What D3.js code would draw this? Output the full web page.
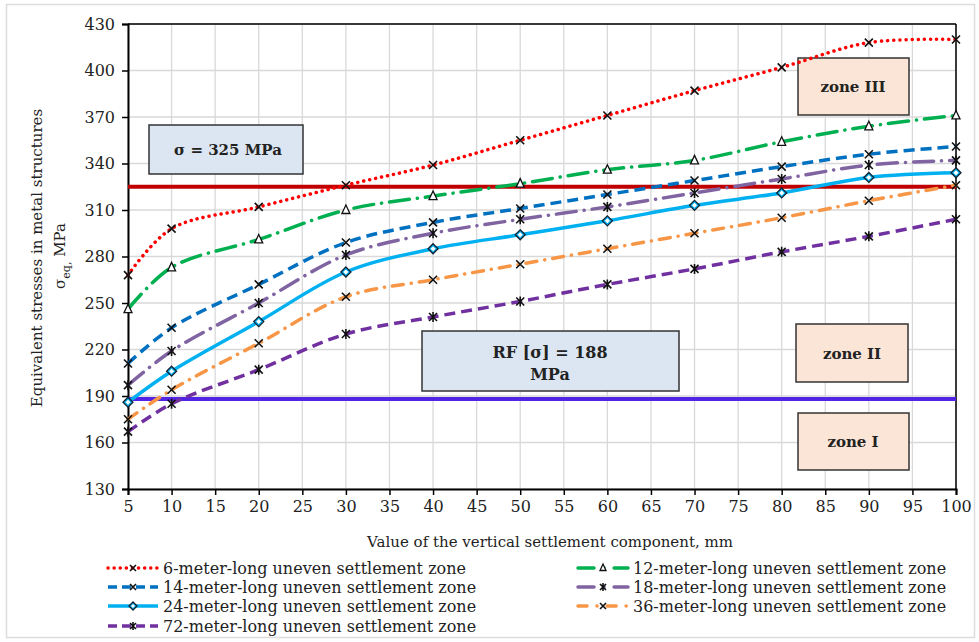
<!DOCTYPE html>
<html>
<head>
<meta charset="utf-8">
<script src="https://cdn.jsdelivr.net/npm/d3@7/dist/d3.min.js"></script>
<style>
body { margin: 0; background: #fff; }
</style>
</head>
<body>
<div id="chart"></div>
<script>
var xs = [5, 10, 20, 30, 40, 50, 60, 70, 80, 90, 100];
var s6 = [268, 298, 312, 326, 339, 355, 371, 387, 402, 418, 420];
var s12 = [246, 273, 291, 310, 319, 327, 336, 342, 354, 364, 371];
var s14 = [211, 234, 262, 289, 302, 311, 320, 329, 338, 346, 351];
var s18 = [197, 219, 250, 281, 295, 304, 312, 321, 330, 339, 342];
var s24 = [186, 206, 238, 270, 285, 294, 303, 313, 321, 331, 334];
var s36 = [175, 194, 224, 254, 265, 275, 285, 295, 305, 316, 326];
var s72 = [167, 185, 207, 230, 241, 251, 262, 272, 283, 293, 304];
var seriesNames = ["6-meter-long uneven settlement zone", "12-meter-long uneven settlement zone",
  "14-meter-long uneven settlement zone", "18-meter-long uneven settlement zone",
  "24-meter-long uneven settlement zone", "36-meter-long uneven settlement zone",
  "72-meter-long uneven settlement zone"];
var xTicks = [5, 10, 15, 20, 25, 30, 35, 40, 45, 50, 55, 60, 65, 70, 75, 80, 85, 90, 95, 100];
var yTicks = [130, 160, 190, 220, 250, 280, 310, 340, 370, 400, 430];
var limitHigh = 325, limitLow = 188;

var serif = "'DejaVu Serif', serif";
var width = 979, height = 642;
var svg = d3.select("#chart").append("svg").attr("width", width).attr("height", height)
  .style("font-family", serif);

svg.append("rect").attr("x", 6.5).attr("y", 4.5).attr("width", 968).attr("height", 633)
  .attr("fill", "none").attr("stroke", "#dcdcdc").attr("stroke-width", 1.5);

var x = d3.scaleLinear().domain([5, 100]).range([128, 956]);
var y = d3.scaleLinear().domain([130, 430]).range([489, 24]);

// grid
svg.append("g").selectAll("line").data(xTicks).enter().append("line")
  .attr("x1", function(d) { return x(d); }).attr("x2", function(d) { return x(d); })
  .attr("y1", y(130)).attr("y2", y(430)).attr("stroke", "#d9d9d9").attr("stroke-width", 1.3);
svg.append("g").selectAll("line").data(yTicks).enter().append("line")
  .attr("x1", x(5)).attr("x2", x(100))
  .attr("y1", function(d) { return y(d); }).attr("y2", function(d) { return y(d); })
  .attr("stroke", "#d9d9d9").attr("stroke-width", 1.3);

// frame top/right
svg.append("line").attr("x1", x(5)).attr("x2", x(100)).attr("y1", y(430)).attr("y2", y(430)).attr("stroke", "#000").attr("stroke-width", 1.5);
svg.append("line").attr("x1", x(100)).attr("x2", x(100)).attr("y1", y(430)).attr("y2", y(130)).attr("stroke", "#000").attr("stroke-width", 1.5);

var xAxis = svg.append("g").attr("transform", "translate(0," + y(130) + ")")
  .call(d3.axisBottom(x).tickValues(xTicks).tickSize(6).tickPadding(6).tickFormat(d3.format("d")));
var yAxis = svg.append("g").attr("transform", "translate(" + x(5) + ",0)")
  .call(d3.axisLeft(y).tickValues(yTicks).tickSize(6).tickPadding(7).tickFormat(d3.format("d")));
[xAxis, yAxis].forEach(function(a) {
  a.attr("font-family", serif);
  a.select(".domain").attr("stroke", "#000").attr("stroke-width", 2);
  a.selectAll(".tick line").attr("stroke", "#000").attr("stroke-width", 1.5);
  a.selectAll(".tick text").attr("font-size", 16).attr("fill", "#222").style("font-family", serif);
});

// annotation boxes (under lines)
function box(x0, y0, w, h, fill) {
  svg.append("rect").attr("x", x0).attr("y", y0).attr("width", w).attr("height", h)
    .attr("fill", fill).attr("stroke", "#333").attr("stroke-width", 1.5);
}
box(149, 125, 154, 49, "#dce6f2");
box(422, 331, 257, 60, "#dce6f2");
box(798, 58, 111, 57, "#fbe5d6");
box(796, 324, 112, 58, "#fbe5d6");
box(798, 413, 111, 57, "#fbe5d6");

function label(tx, ty, str, size) {
  svg.append("text").attr("x", tx).attr("y", ty).attr("text-anchor", "middle")
    .style("font-family", serif)
    .attr("font-size", size).attr("font-weight", "bold").attr("fill", "#222").text(str);
}
label(228, 155, "σ = 325 MPa", 15);
label(550, 358, "RF [σ] = 188", 16);
label(550, 380, "MPa", 16);
label(853, 92, "zone III", 15);
label(852, 359, "zone II", 15);
label(853, 447, "zone I", 15);

// limit lines
svg.append("line").attr("x1", x(5)).attr("x2", x(100)).attr("y1", y(limitHigh)).attr("y2", y(limitHigh))
  .attr("stroke", "#c00000").attr("stroke-width", 4);
svg.append("line").attr("x1", x(5)).attr("x2", x(100)).attr("y1", y(limitLow)).attr("y2", y(limitLow))
  .attr("stroke", "#5424e6").attr("stroke-width", 4);

var styles = [
  { data: s6, color: "#ff0000", dash: "0.1 6", cap: "round", w: 3.5, marker: "x" },
  { data: s12, color: "#00b050", dash: "20 8 0.1 8", cap: "round", w: 3.5, marker: "tri" },
  { data: s14, color: "#0070c0", dash: "11 6", cap: "butt", w: 3.5, marker: "x" },
  { data: s18, color: "#8064a2", dash: "20 8 0.1 8", cap: "round", w: 3.5, marker: "star" },
  { data: s24, color: "#00b0f0", dash: null, cap: "butt", w: 3.5, marker: "diamond" },
  { data: s36, color: "#f79646", dash: "11 8 0.1 8", cap: "round", w: 3.5, marker: "x" },
  { data: s72, color: "#7030a0", dash: "11 6", cap: "butt", w: 3.5, marker: "star" }
];

var line = d3.line().curve(d3.curveCatmullRom.alpha(0.5))
  .x(function(d) { return x(d[0]); }).y(function(d) { return y(d[1]); });

function drawMarker(g, type, cx, cy, color, r) {
  if (type === "x" || type === "star") {
    g.append("path").attr("d", "M" + (cx - r) + "," + (cy - r) + "L" + (cx + r) + "," + (cy + r) +
      "M" + (cx - r) + "," + (cy + r) + "L" + (cx + r) + "," + (cy - r) +
      (type === "star" ? "M" + cx + "," + (cy - r - 1) + "L" + cx + "," + (cy + r + 1) : ""))
      .attr("stroke", "#111").attr("stroke-width", 1.6).attr("fill", "none");
  } else if (type === "tri") {
    g.append("path").attr("d", "M" + cx + "," + (cy - r - 1) + "L" + (cx + r) + "," + (cy + r - 0.5) + "L" + (cx - r) + "," + (cy + r - 0.5) + "Z")
      .attr("stroke", "#111").attr("stroke-width", 1.3).attr("fill", "#fff");
  } else if (type === "diamond") {
    var q = r + 1;
    g.append("path").attr("d", "M" + cx + "," + (cy - q) + "L" + (cx + q) + "," + cy + "L" + cx + "," + (cy + q) + "L" + (cx - q) + "," + cy + "Z")
      .attr("stroke", "#123").attr("stroke-width", 1.3).attr("fill", color);
    g.append("path").attr("d", "M" + cx + "," + (cy - q / 2) + "L" + (cx + q / 2) + "," + cy + "L" + cx + "," + (cy + q / 2) + "L" + (cx - q / 2) + "," + cy + "Z")
      .attr("fill", "#fff");
  }
}

var plot = svg.append("g");
styles.forEach(function(s) {
  var pts = xs.map(function(v, i) { return [v, s.data[i]]; });
  plot.append("path").datum(pts).attr("d", line).attr("fill", "none")
    .attr("stroke", s.color).attr("stroke-width", s.w)
    .attr("stroke-dasharray", s.dash).attr("stroke-linecap", s.cap);
});
styles.forEach(function(s) {
  var mg = plot.append("g");
  xs.forEach(function(v, i) { drawMarker(mg, s.marker, x(v), y(s.data[i]), s.color, 4); });
});

// axis titles
svg.append("text").attr("x", 550).attr("y", 547).attr("text-anchor", "middle").style("font-family", serif)
  .attr("font-size", 15).attr("fill", "#222").text("Value of the vertical settlement component, mm");
svg.append("text").attr("transform", "translate(42,258) rotate(-90)").attr("text-anchor", "middle").style("font-family", serif)
  .attr("font-size", 15).attr("fill", "#222").text("Equivalent stresses in metal structures");
var t2 = svg.append("text").attr("transform", "translate(65,256) rotate(-90)").attr("text-anchor", "middle").style("font-family", serif)
  .attr("font-size", 15).attr("fill", "#222");
t2.append("tspan").text("σ");
t2.append("tspan").attr("dy", 5).attr("font-size", 11).text("eq,");
t2.append("tspan").attr("dy", -5).text("  MPa");

// legend
var legendPos = [[108, 568], [578, 568], [108, 587], [578, 587], [108, 606], [578, 606], [108, 626]];
var legendDash = ["0.1 6", "16 10 0.1 10", "9 5", "16 10 0.1 10", null, "9 10 0.1 10", "9 5"];
styles.forEach(function(s, i) {
  var lx = legendPos[i][0], ly = legendPos[i][1];
  var lg = svg.append("g");
  lg.append("line").attr("x1", lx).attr("x2", lx + 50).attr("y1", ly).attr("y2", ly)
    .attr("stroke", s.color).attr("stroke-width", s.w)
    .attr("stroke-dasharray", legendDash[i])
    .attr("stroke-linecap", s.cap);
  drawMarker(lg, s.marker, lx + 25, ly, s.color, 3);
  lg.append("text").attr("x", lx + 55).attr("y", ly + 6).attr("font-size", 16).attr("fill", "#222")
    .style("font-family", serif).text(seriesNames[i]);
});
</script>
</body>
</html>
